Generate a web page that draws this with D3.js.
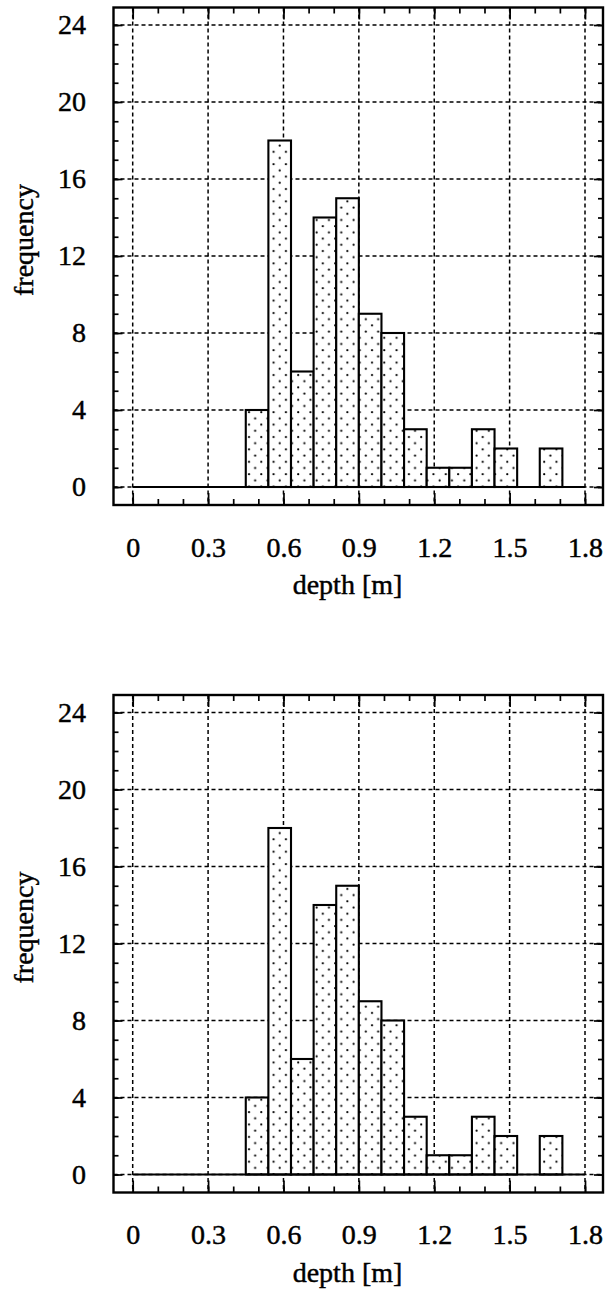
<!DOCTYPE html>
<html>
<head>
<meta charset="utf-8">
<script src="https://cdn.jsdelivr.net/npm/d3@7"></script>
<style>
  body { margin: 0; background: #fff; }
  text { font-family: 'Liberation Serif', 'Times New Roman', serif; fill: #000; stroke: #000; stroke-width: 0.45px; }
</style>
</head>
<body>
<script>
'use strict';

// histogram bins (left edges + last right edge), depth in m
var binEdges = [0.45, 0.54, 0.63, 0.72, 0.81, 0.90, 0.99, 1.08, 1.17, 1.26, 1.35, 1.44, 1.53, 1.62, 1.71];
var countsUpper = [4, 18, 6, 14, 15, 9, 8, 3, 1, 1, 3, 2, 0, 2];
var countsLower = [4, 18, 6, 14, 15, 9, 8, 3, 1, 1, 3, 2, 0, 2];

var xTicks = [0, 0.3, 0.6, 0.9, 1.2, 1.5, 1.8];
var xTickLabels = ['0', '0.3', '0.6', '0.9', '1.2', '1.5', '1.8'];
var yTicks = [0, 4, 8, 12, 16, 20, 24];
var yTickLabels = ['0', '4', '8', '12', '16', '20', '24'];

var width = 609,
    height = 1292;

var frame = {left: 113.5, right: 603, top: 7.5, bottom: 505};

var x = d3.scaleLinear().domain([0, 1.8]).range([132.7, 585]);
var y = d3.scaleLinear().domain([0, 24]).range([487, 25]);

var svg = d3.select('body').append('svg')
    .attr('width', width)
    .attr('height', height);

svg.append('rect').attr('width', width).attr('height', height).attr('fill', '#fff');

// dotted fill
var pat = svg.append('defs').append('pattern')
    .attr('id', 'dots')
    .attr('patternUnits', 'userSpaceOnUse')
    .attr('width', 12.3)
    .attr('height', 12.4);
pat.append('rect').attr('width', 12.3).attr('height', 12.4).attr('fill', '#fff');
pat.append('circle').attr('cx', 3).attr('cy', 3).attr('r', 1.1).attr('fill', '#000');
pat.append('circle').attr('cx', 9.15).attr('cy', 9.2).attr('r', 1.1).attr('fill', '#000');

function styleAxis(sel, width) {
  sel.select('.domain').remove();
  sel.selectAll('line').attr('stroke', '#000').attr('stroke-width', width);
  sel.attr('font-family', null).attr('font-size', 28);
}

var drawPanel = function(offset, counts) {
  var g = svg.append('g').attr('transform', 'translate(0,' + offset + ')');

  // grid
  g.selectAll('line.vgrid').data(xTicks).enter().append('line')
    .attr('class', 'vgrid')
    .attr('x1', function(d) { return x(d); })
    .attr('x2', function(d) { return x(d); })
    .attr('y1', frame.top)
    .attr('y2', frame.bottom)
    .attr('stroke', '#000')
    .attr('stroke-width', 1.5)
    .attr('stroke-dasharray', '4,3');

  g.selectAll('line.hgrid').data(yTicks).enter().append('line')
    .attr('class', 'hgrid')
    .attr('x1', frame.left)
    .attr('x2', frame.right)
    .attr('y1', function(d) { return y(d); })
    .attr('y2', function(d) { return y(d); })
    .attr('stroke', '#000')
    .attr('stroke-width', 1.5)
    .attr('stroke-dasharray', '4,3');

  // bars
  var bins = counts.map(function(c, i) {
    return {x0: binEdges[i], x1: binEdges[i + 1], n: c};
  }).filter(function(d) { return d.n > 0; });

  g.selectAll('rect.bar').data(bins).enter().append('rect')
    .attr('class', 'bar')
    .attr('x', function(d) { return x(d.x0); })
    .attr('width', function(d) { return x(d.x1) - x(d.x0); })
    .attr('y', function(d) { return y(d.n); })
    .attr('height', function(d) { return y(0) - y(d.n); })
    .attr('fill', 'url(#dots)')
    .attr('stroke', '#000')
    .attr('stroke-width', 2.1);

  // zero line
  g.append('line')
    .attr('x1', x(0)).attr('x2', x(1.8))
    .attr('y1', y(0)).attr('y2', y(0))
    .attr('stroke', '#000')
    .attr('stroke-width', 2.2);

  // ticks: minor then major
  var bottom = g.append('g').attr('transform', 'translate(0,' + frame.bottom + ')');
  bottom.append('g').call(d3.axisBottom(x).ticks(18).tickSize(-6).tickFormat('')).call(styleAxis, 1.7);
  var bMajor = bottom.append('g')
    .call(d3.axisBottom(x).tickValues(xTicks).tickSize(-12)
      .tickFormat(function(d, i) { return xTickLabels[i]; }))
    .call(styleAxis, 1.7);
  bMajor.selectAll('text').attr('y', 51.7).attr('dy', null);

  var top = g.append('g').attr('transform', 'translate(0,' + frame.top + ')');
  top.append('g').call(d3.axisTop(x).ticks(18).tickSize(-6).tickFormat('')).call(styleAxis, 1.7);
  top.append('g').call(d3.axisTop(x).tickValues(xTicks).tickSize(-12).tickFormat('')).call(styleAxis, 1.7);

  var left = g.append('g').attr('transform', 'translate(' + frame.left + ',0)');
  left.append('g').call(d3.axisLeft(y).ticks(24).tickSize(-5).tickFormat('')).call(styleAxis, 1.7);
  left.append('g')
    .call(d3.axisLeft(y).tickValues(yTicks).tickSize(-9).tickPadding(27.5)
      .tickFormat(function(d, i) { return yTickLabels[i]; }))
    .call(styleAxis, 1.7);

  var right = g.append('g').attr('transform', 'translate(' + frame.right + ',0)');
  right.append('g').call(d3.axisRight(y).ticks(24).tickSize(-5).tickFormat('')).call(styleAxis, 1.7);
  right.append('g').call(d3.axisRight(y).tickValues(yTicks).tickSize(-9).tickFormat('')).call(styleAxis, 1.7);

  // frame
  g.append('rect')
    .attr('x', frame.left)
    .attr('y', frame.top)
    .attr('width', frame.right - frame.left)
    .attr('height', frame.bottom - frame.top)
    .attr('fill', 'none')
    .attr('stroke', '#000')
    .attr('stroke-width', 2.4);

  // axis titles
  g.append('text')
    .attr('x', 347.5)
    .attr('y', 594)
    .attr('text-anchor', 'middle')
    .attr('font-size', 28)
    .text('depth [m]');

  g.append('text')
    .attr('transform', 'translate(33,240) rotate(-90)')
    .attr('text-anchor', 'middle')
    .attr('font-size', 28)
    .text('frequency');
};

drawPanel(0, countsUpper);
drawPanel(687.5, countsLower);
</script>
</body>
</html>
